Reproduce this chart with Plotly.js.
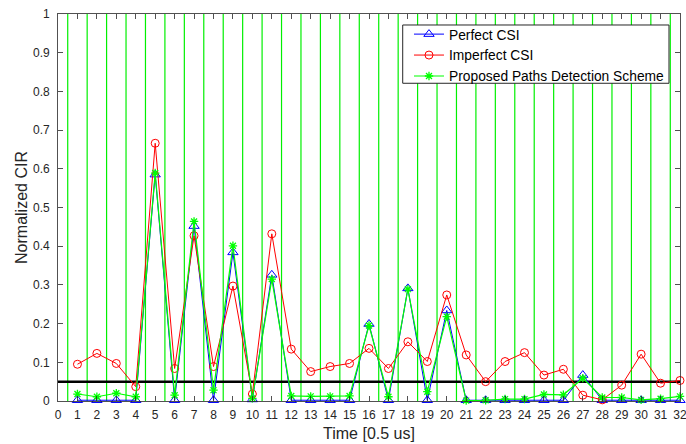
<!DOCTYPE html>
<html>
<head>
<meta charset="utf-8">
<script src="https://cdn.plot.ly/plotly-3.0.1.min.js"></script>
<style>
  html, body { margin: 0; padding: 0; background: #ffffff; }
  #chart { width: 686px; height: 444px; }
</style>
</head>
<body>
<div id="chart"></div>
<script>
// Time index (units of 0.5 us)
const timeIdx = [1,2,3,4,5,6,7,8,9,10,11,12,13,14,15,16,17,18,19,20,21,22,23,24,25,26,27,28,29,30,31,32];

// Normalized CIR magnitudes per tap
const perfectCSI = [0.002,0.002,0.002,0.002,0.585,0.002,0.452,0.002,0.384,0.004,0.326,0.002,0.002,0.002,0.002,0.199,
                    0.002,0.291,0.002,0.234,0.002,0.002,0.002,0.002,0.002,0.002,0.067,0.002,0.002,0.002,0.002,0.002];
const imperfectCSI = [0.095,0.123,0.097,0.037,0.666,0.084,0.427,0.089,0.297,0.018,0.432,0.134,0.076,0.089,0.097,0.136,
                      0.084,0.153,0.102,0.274,0.119,0.050,0.102,0.125,0.067,0.082,0.015,0.003,0.041,0.121,0.046,0.053];
const proposedScheme = [0.018,0.011,0.020,0.011,0.589,0.015,0.464,0.028,0.401,0.007,0.315,0.013,0.012,0.012,0.013,0.195,
                        0.011,0.289,0.024,0.218,0.001,0.002,0.005,0.005,0.017,0.016,0.059,0.009,0.009,0.003,0.006,0.012];

// Detection threshold
const threshold = 0.05;

// Axis tick labels
const xTicks = [0,1,2,3,4,5,6,7,8,9,10,11,12,13,14,15,16,17,18,19,20,21,22,23,24,25,26,27,28,29,30,31,32];
const yTicks = [0,0.1,0.2,0.3,0.4,0.5,0.6,0.7,0.8,0.9,1];
const yTickText = ['0','0.1','0.2','0.3','0.4','0.5','0.6','0.7','0.8','0.9','1'];

const axisColor = 'rgb(38,38,38)';
const font = 'Liberation Sans, Arial, Helvetica, sans-serif';

const traces = [
  {
    x: timeIdx, y: perfectCSI, name: 'Perfect CSI', type: 'scatter', mode: 'lines+markers',
    line: { color: '#0000ff', width: 1 },
    marker: { symbol: 'triangle-up-open', size: 9, color: '#0000ff', line: { width: 1, color: '#0000ff' } },
    cliponaxis: false
  },
  {
    x: timeIdx, y: imperfectCSI, name: 'Imperfect CSI', type: 'scatter', mode: 'lines+markers',
    line: { color: '#ff0000', width: 1 },
    marker: { symbol: 'circle-open', size: 8, color: '#ff0000', line: { width: 1, color: '#ff0000' } },
    cliponaxis: false
  },
  {
    x: timeIdx, y: proposedScheme, name: 'Proposed Paths Detection Scheme', type: 'scatter', mode: 'lines+markers',
    line: { color: '#00ff00', width: 1.2 },
    marker: { symbol: 'asterisk-open', size: 7, color: '#00ff00', line: { width: 1.3, color: '#00ff00' } },
    cliponaxis: false
  }
];

// Green separators between taps, then the threshold line
const shapes = [];
for (let k = 0; k < 32; k++) {
  shapes.push({
    type: 'line', xref: 'x', yref: 'paper', x0: k + 0.5, x1: k + 0.5, y0: 0, y1: 1,
    line: { color: '#00f000', width: 1.2 }, layer: 'below'
  });
}
shapes.push({
  type: 'line', xref: 'paper', yref: 'y', x0: 0, x1: 1, y0: threshold, y1: threshold,
  line: { color: '#000000', width: 2.5 }, layer: 'below'
});
// Legend frame
shapes.push({
  type: 'rect', xref: 'paper', yref: 'paper', x0: 0.5542, x1: 0.9823, y0: 0.821, y1: 0.9716,
  fillcolor: '#ffffff', line: { color: axisColor, width: 1 }, layer: 'above'
});

const layout = {
  width: 686, height: 444,
  margin: { l: 58, r: 6, t: 14, b: 43, pad: 0 },
  paper_bgcolor: '#ffffff', plot_bgcolor: '#ffffff',
  font: { family: font, color: axisColor, size: 12 },
  showlegend: true,
  legend: {
    x: 0.5643, y: 0.988, xanchor: 'left', yanchor: 'top',
    bgcolor: 'rgba(0,0,0,0)', borderwidth: 0,
    font: { family: font, size: 13.8, color: '#000000' },
    tracegroupgap: 0
  },
  xaxis: {
    range: [0, 32], tickvals: xTicks, ticktext: xTicks.map(String),
    showgrid: false, zeroline: false,
    showline: true, linecolor: axisColor, linewidth: 0.8, mirror: 'ticks',
    ticks: 'inside', ticklen: 5, tickwidth: 0.8, tickcolor: axisColor,
    ticklabelstandoff: 3, ticklabeloverflow: 'allow',
    tickfont: { family: font, size: 12, color: axisColor },
    title: { text: 'Time [0.5 us]', font: { family: font, size: 16, color: axisColor }, standoff: 6 }
  },
  yaxis: {
    range: [0, 1], tickvals: yTicks, ticktext: yTickText,
    showgrid: false, zeroline: false,
    showline: true, linecolor: axisColor, linewidth: 0.8, mirror: 'ticks',
    ticks: 'inside', ticklen: 5, tickwidth: 0.8, tickcolor: axisColor,
    ticklabelstandoff: 5,
    tickfont: { family: font, size: 12, color: axisColor },
    title: { text: 'Normalized CIR', font: { family: font, size: 16, color: axisColor }, standoff: 1 }
  },
  shapes: shapes
};

Plotly.newPlot('chart', traces, layout, { displayModeBar: false, staticPlot: true });
</script>
</body>
</html>
